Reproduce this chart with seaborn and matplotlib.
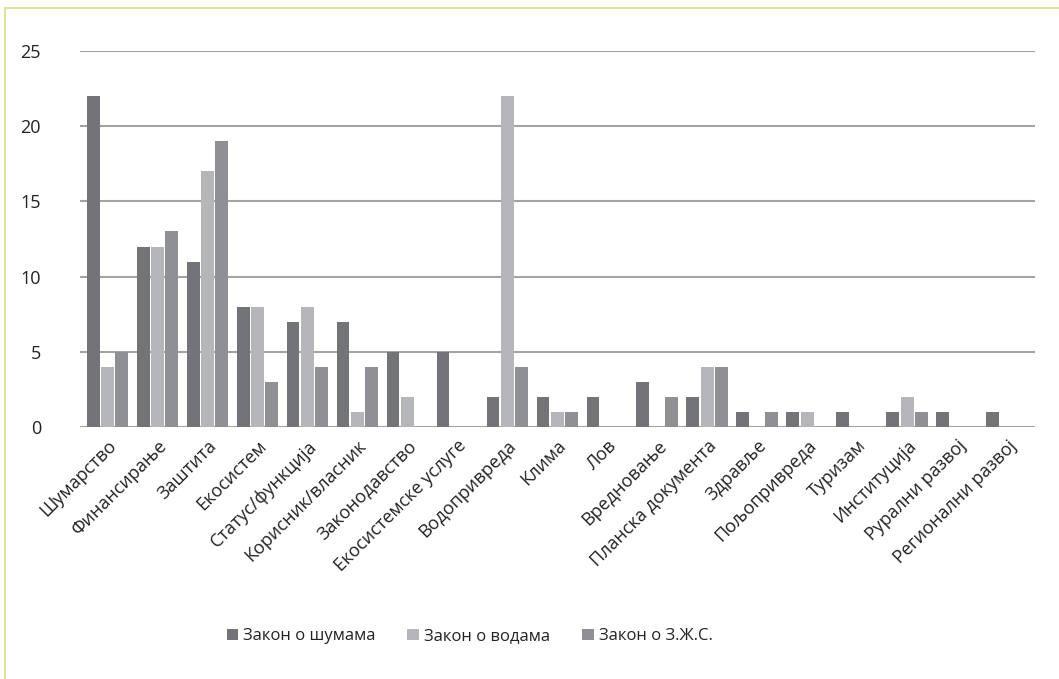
import pandas as pd
import numpy as np
import seaborn as sns
import matplotlib.pyplot as plt
from matplotlib.lines import Line2D

categories = ['Шумарство', 'Финансирање', 'Заштита', 'Екосистем', 'Статус/функција',
              'Корисник/власник', 'Законодавство', 'Екосистемске услуге', 'Водопривреда',
              'Клима', 'Лов', 'Вредновање', 'Планска документа', 'Здравље', 'Пољопривреда',
              'Туризам', 'Институција', 'Рурални развој', 'Регионални развој']
zakon_sume = [22, 12, 11, 8, 7, 7, 5, 5, 2, 2, 2, 3, 2, 1, 1, 1, 1, 1, 1]
zakon_vode = [4, 12, 17, 8, 8, 1, 2, 0, 22, 1, 0, 0, 4, 0, 1, 0, 2, 0, 0]
zakon_zzs = [5, 13, 19, 3, 4, 4, 0, 0, 4, 1, 0, 2, 4, 1, 0, 0, 1, 0, 0]
series = ['Закон о шумама', 'Закон о водама', 'Закон о З.Ж.С.']

df = pd.DataFrame({'category': categories * 3,
                   'value': zakon_sume + zakon_vode + zakon_zzs,
                   'series': np.repeat(series, len(categories))})

sns.set_style('white')
plt.rcParams['font.family'] = ['Open Sans', 'DejaVu Sans']

fig = plt.figure(figsize=(10.59, 6.79), dpi=100)
ax = fig.add_axes([0.0755, 0.371, 0.9015, 0.554])

pal = ['#737478', '#b5b6ba', '#8f9094']
sns.barplot(data=df, x='category', y='value', hue='series', palette=pal,
            width=0.86, gap=0.1, ax=ax, legend=True, saturation=1, linewidth=0)

ax.set_ylim(0, 25)
ax.set_xlim(-0.55, len(categories) - 0.45)
ax.set_yticks(range(0, 26, 5))
ax.yaxis.grid(True, color='#a3a3a3', linewidth=1.5)
ax.set_axisbelow(True)
for s in ax.spines.values():
    s.set_visible(False)
ax.axhline(0, color='#a3a3a3', linewidth=2, zorder=0.5)
ax.set_xlabel('')
ax.set_ylabel('')
ax.tick_params(axis='y', labelsize=13, pad=28, length=0, labelcolor='#222222')
ax.tick_params(axis='x', length=0, pad=7, labelcolor='#222222')
plt.setp(ax.get_xticklabels(), rotation=45, ha='right', rotation_mode='anchor', fontsize=13)

ax.legend(loc='center', bbox_to_anchor=(0.408, -0.556), ncol=3, frameon=False,
          fontsize=12, handlelength=0.7, handleheight=0.7, handletextpad=0.3, columnspacing=1.9,
          labelcolor='#222222')

# light yellow frame like the original chart area
fig.add_artist(Line2D([0.005, 0.005], [0.0, 0.988], color='#e4e0a0', linewidth=1.5))
fig.add_artist(Line2D([0.005, 1.0], [0.988, 0.988], color='#e4e0a0', linewidth=1.5))

plt.savefig('out.png', dpi=100)
